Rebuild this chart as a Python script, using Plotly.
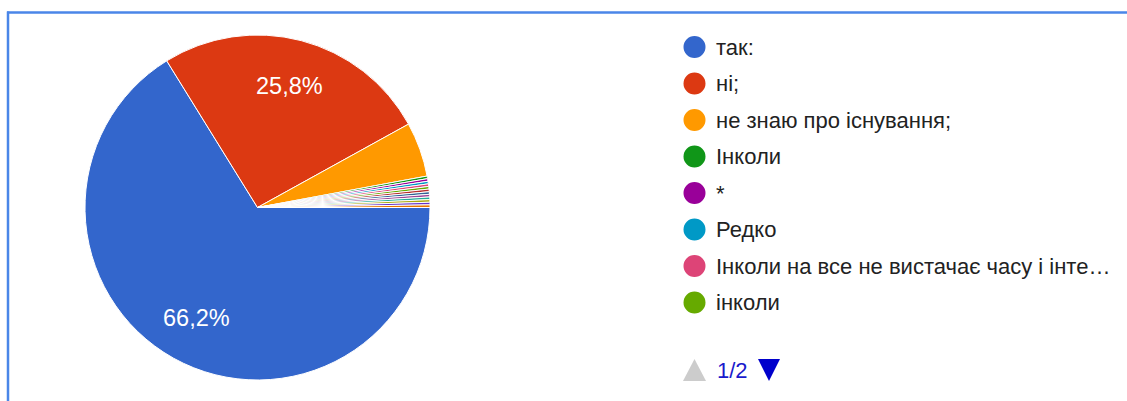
import math
import plotly.graph_objects as go

# Survey answers (first legend page) and response counts
labels = [
    "так:",
    "ні;",
    "не знаю про існування;",
    "Інколи",
    "*",
    "Редко",
    "Інколи на все не вистачає часу і інте…",
    "інколи",
]
# answers listed on the second legend page
labels_page2 = [f"відповідь {i}" for i in range(9, 16)]
counts = [272, 106, 21, 1, 1, 1, 1, 1]
counts_page2 = [1, 1, 1, 1, 1, 1, 1]
colors = [
    "#3366cc", "#dc3912", "#ff9900", "#109618", "#990099", "#0099c6",
    "#dd4477", "#66aa00", "#b82e2e", "#316395", "#994499", "#22aa99",
    "#aaaa11", "#6633cc", "#e67300",
]

W, H = 1127, 401
FONT = "Arial, Liberation Sans, sans-serif"

all_labels = labels + labels_page2
all_counts = counts + counts_page2
total = sum(all_counts)

# pie geometry in pixels
cx, cy, r = 257.5, 207.5, 172.5
rotation = 90

fig = go.Figure()
fig.add_trace(go.Pie(
    labels=all_labels,
    values=all_counts,
    sort=False,
    direction="clockwise",
    rotation=rotation,
    marker=dict(colors=colors, line=dict(color="white", width=1)),
    textinfo="none",
    hoverinfo="label+percent",
    showlegend=False,
    domain=dict(x=[(cx - r) / W, (cx + r) / W], y=[1 - (cy + r) / H, 1 - (cy - r) / H]),
))

annotations = []
shapes = []

# percentage labels on the slices large enough to hold them
cum = 0
for v in all_counts:
    pct = 100 * v / total
    if pct > 10:
        mid = math.radians(rotation + 360 * (cum + v / 2) / total)
        px = cx + 0.73 * r * math.sin(mid)
        py = cy - 0.73 * r * math.cos(mid)
        annotations.append(dict(
            x=px / W, y=1 - py / H, xref="paper", yref="paper",
            text=f"{pct:.1f}".replace(".", ",") + "%", showarrow=False,
            font=dict(family=FONT, size=23.5, color="white"),
            xanchor="center", yanchor="middle",
        ))
    cum += v

# legend (first page)
lx, ly0, dy, rad = 694.5, 47, 36.5, 11
for i, lab in enumerate(labels):
    y = ly0 + i * dy
    shapes.append(dict(
        type="circle", xref="paper", yref="paper",
        x0=(lx - rad) / W, x1=(lx + rad) / W,
        y0=1 - (y + rad) / H, y1=1 - (y - rad) / H,
        fillcolor=colors[i], line=dict(width=0),
    ))
    annotations.append(dict(
        x=714 / W, y=1 - y / H, xref="paper", yref="paper",
        text=lab, showarrow=False, xanchor="left", yanchor="middle",
        font=dict(family=FONT, size=22, color="#222222"),
    ))

# legend pager
py = 370
def tri(x0, x1, ytop, ybot, up, color):
    if up:
        path = f"M {x0/W} {1-ybot/H} L {x1/W} {1-ybot/H} L {(x0+x1)/2/W} {1-ytop/H} Z"
    else:
        path = f"M {x0/W} {1-ytop/H} L {x1/W} {1-ytop/H} L {(x0+x1)/2/W} {1-ybot/H} Z"
    return dict(type="path", xref="paper", yref="paper", path=path,
                fillcolor=color, line=dict(width=0))

shapes.append(tri(683, 706, 359, 381, True, "#cccccc"))
shapes.append(tri(758, 780, 359, 381, False, "#0000cc"))
annotations.append(dict(
    x=732 / W, y=1 - py / H, xref="paper", yref="paper", text="1/2",
    showarrow=False, xanchor="center", yanchor="middle",
    font=dict(family=FONT, size=22, color="#1a1acc"),
))

# frame lines at top and left
shapes.append(dict(type="line", xref="paper", yref="paper",
                   x0=7 / W, x1=1, y0=1 - 12.5 / H, y1=1 - 12.5 / H,
                   line=dict(color="#4a86e8", width=2.5)))
shapes.append(dict(type="line", xref="paper", yref="paper",
                   x0=8 / W, x1=8 / W, y0=0, y1=1 - 11.5 / H,
                   line=dict(color="#4a86e8", width=2.5)))

fig.update_layout(
    width=W, height=H,
    margin=dict(l=0, r=0, t=0, b=0),
    paper_bgcolor="white",
    plot_bgcolor="white",
    annotations=annotations,
    shapes=shapes,
)

fig.write_html("out.html")
